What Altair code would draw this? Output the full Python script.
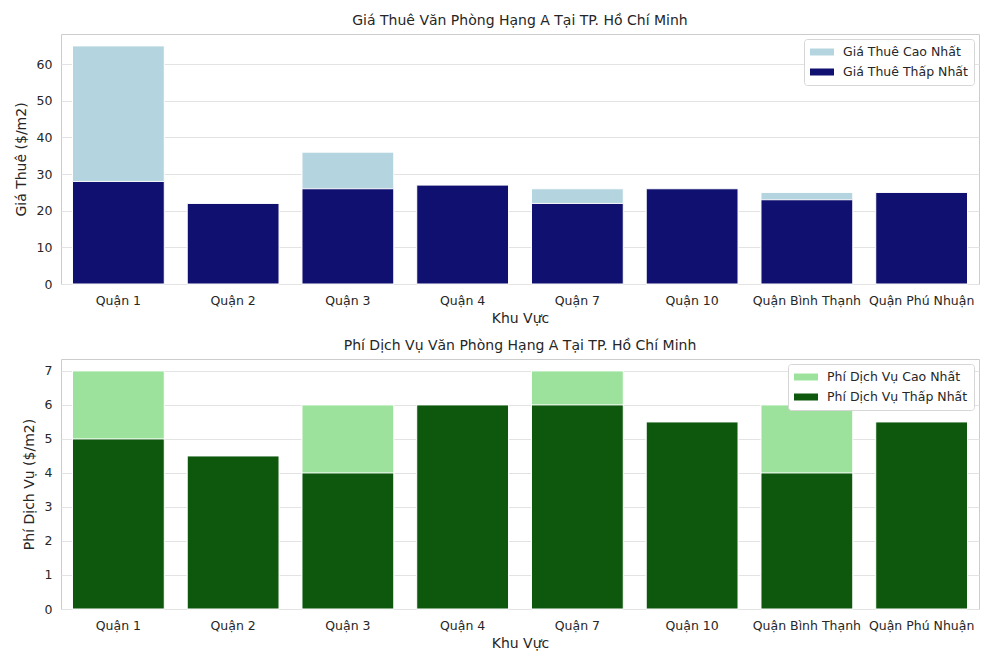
import altair as alt
import pandas as pd

districts = ["Quận 1", "Quận 2", "Quận 3", "Quận 4", "Quận 7", "Quận 10", "Quận Bình Thạnh", "Quận Phú Nhuận"]
rent_high = [65, 22, 36, 27, 26, 26, 25, 25]
rent_low = [28, 22, 26, 27, 22, 26, 23, 25]
fee_high = [7, 4.5, 6, 6, 7, 5.5, 6, 5.5]
fee_low = [5, 4.5, 4, 6, 6, 5.5, 4, 5.5]

rent_series = ["Giá Thuê Cao Nhất", "Giá Thuê Thấp Nhất"]
fee_series = ["Phí Dịch Vụ Cao Nhất", "Phí Dịch Vụ Thấp Nhất"]

def long_df(high, low, names):
    rows = []
    for d, v in zip(districts, high):
        rows.append({"district": d, "series": names[0], "value": v, "ord": 0})
    for d, v in zip(districts, low):
        rows.append({"district": d, "series": names[1], "value": v, "ord": 1})
    return pd.DataFrame(rows)

rent_df = long_df(rent_high, rent_low, rent_series)
fee_df = long_df(fee_high, fee_low, fee_series)

FONT = "DejaVu Sans"
TXT = "#262626"
RECT = "M-1,-0.5H2.43V0.5H-1Z"

def panel(df, names, colors, title, ytitle, ymax):
    return alt.Chart(df, title=alt.Title(title, fontSize=14, fontWeight="normal", color=TXT, font=FONT, offset=6)).mark_bar(
        stroke="white", strokeWidth=1
    ).encode(
        x=alt.X("district:N", sort=districts, title="Khu Vực",
                scale=alt.Scale(paddingInner=0.2, paddingOuter=0.1),
                axis=alt.Axis(labelAngle=0, labelOverlap=False, labelLimit=200, grid=False,
                              labelPadding=10, titlePadding=5)),
        y=alt.Y("value:Q", stack=None, title=ytitle,
                scale=alt.Scale(domain=[0, ymax], nice=False, zero=True),
                axis=alt.Axis(labelPadding=9, titlePadding=8)),
        color=alt.Color("series:N", scale=alt.Scale(domain=names, range=colors),
                        legend=alt.Legend(title=None, orient="top-right", offset=5,
                                          fillColor="white", strokeColor="#d6d6d6",
                                          padding=6, cornerRadius=3,
                                          symbolType=RECT, symbolSize=196,
                                          symbolStrokeWidth=0, symbolOpacity=1,
                                          labelFontSize=12.5, labelFont=FONT, labelColor=TXT,
                                          rowPadding=6, labelOffset=19)),
        order=alt.Order("ord:Q"),
    ).properties(width=918, height=250)

top = panel(rent_df, rent_series, ["#b4d4df", "#101070"],
            "Giá Thuê Văn Phòng Hạng A Tại TP. Hồ Chí Minh", "Giá Thuê ($/m2)", 68.25)
bottom = panel(fee_df, fee_series, ["#9ce29c", "#0d580d"],
               "Phí Dịch Vụ Văn Phòng Hạng A Tại TP. Hồ Chí Minh", "Phí Dịch Vụ ($/m2)", 7.35)

chart = alt.vconcat(top, bottom, spacing=12).resolve_scale(color="independent").properties(
    background="white", padding={"left": 5, "top": 5, "right": 5, "bottom": 5}
).configure_view(
    stroke="#cccccc", strokeWidth=1
).configure_axis(
    domain=False, ticks=False, labelFont=FONT, titleFont=FONT, labelFontSize=12.5,
    titleFontSize=14, titleFontWeight="normal", labelColor=TXT, titleColor=TXT,
    gridColor="#e3e3e3"
)

chart.save("out.html", embed_options={"renderer": "svg", "actions": False})
